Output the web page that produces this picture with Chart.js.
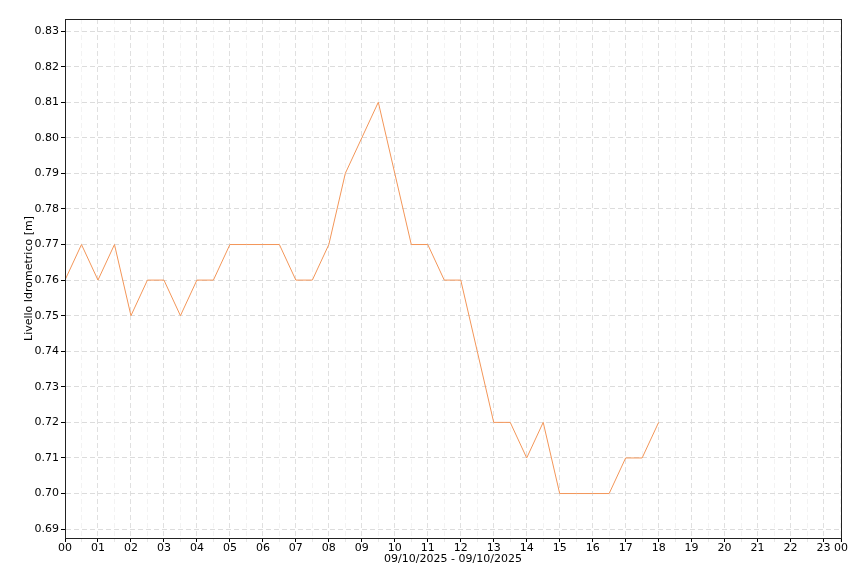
<!DOCTYPE html>
<html lang="it">
<head>
<meta charset="UTF-8">
<title>Livello Idrometrico</title>
<script src="https://cdn.jsdelivr.net/npm/chart.js"></script>
<style>
html,body{margin:0;padding:0;background:#fff;}
#wrap{width:860px;height:573px;}
</style>
</head>
<body>
<div id="wrap"><canvas id="chart" width="860" height="573"></canvas></div>
<script>
// letture ogni mezz'ora, 09/10/2025
const times = ['00:00','00:30','01:00','01:30','02:00','02:30','03:00','03:30','04:00','04:30',
  '05:00','05:30','06:00','06:30','07:00','07:30','08:00','08:30','09:00','09:30',
  '10:00','10:30','11:00','11:30','12:00','12:30','13:00','13:30','14:00','14:30',
  '15:00','15:30','16:00','16:30','17:00','17:30','18:00'];
const levels = [0.76,0.77,0.76,0.77,0.75,0.76,0.76,0.75,0.76,0.76,
  0.77,0.77,0.77,0.77,0.76,0.76,0.77,0.79,0.80,0.81,
  0.79,0.77,0.77,0.76,0.76,0.74,0.72,0.72,0.71,0.72,
  0.70,0.70,0.70,0.70,0.71,0.71,0.72];
const yTicks = [0.69,0.70,0.71,0.72,0.73,0.74,0.75,0.76,0.77,0.78,0.79,0.80,0.81,0.82,0.83];
const xMax = 23.53; // il grafico termina poco dopo le 23:30
const xTicks = [];
for (let h = 0; h <= 23.5; h += 0.5) xTicks.push(h);
xTicks.push(xMax);

const toHours = t => { const p = t.split(':'); return +p[0] + p[1] / 60; };
const points = times.map((t, i) => ({x: toHours(t), y: levels[i]}));

const isHour = v => Number.isInteger(v) || v === xMax;

const frame = {
  id: 'frame',
  afterDraw(chart) {
    const a = chart.chartArea, c = chart.ctx;
    c.save();
    c.strokeStyle = '#222';
    c.lineWidth = 1;
    c.strokeRect(Math.round(a.left) + 0.5, Math.round(a.top) + 0.5,
      Math.round(a.right - a.left), Math.round(a.bottom - a.top));
    c.restore();
  }
};

Chart.defaults.font.family = 'DejaVu Sans';
Chart.defaults.font.size = 11;
Chart.defaults.color = '#000';

new Chart(document.getElementById('chart'), {
  type: 'line',
  data: {
    datasets: [{
      data: points,
      borderColor: '#f39659',
      borderWidth: 1,
      pointRadius: 0,
      tension: 0,
      fill: false
    }]
  },
  options: {
    responsive: false,
    animation: false,
    layout: {padding: {left: 23, top: 19, right: 19, bottom: 7}},
    plugins: {legend: {display: false}, tooltip: {enabled: false}},
    scales: {
      x: {
        type: 'linear',
        min: 0,
        max: xMax,
        afterBuildTicks: s => { s.ticks = xTicks.map(v => ({value: v})); },
        afterFit: s => { s.height = 28; },
        ticks: {
          autoSkip: false,
          maxRotation: 0,
          padding: 0,
          callback: v => v === xMax ? '00' : (Number.isInteger(v) ? String(v).padStart(2, '0') : '')
        },
        grid: {
          color: c => Number.isInteger(c.tick.value) ? '#e0e0e0' : (c.tick.value === xMax ? 'rgba(0,0,0,0)' : '#f3f3f3'),
          tickColor: c => isHour(c.tick.value) ? '#000' : '#e8e8e8',
          tickLength: 4
        },
        border: {color: '#000', dash: [5, 3]},
        title: {display: true, text: '09/10/2025 - 09/10/2025', padding: {top: 0, bottom: 0}}
      },
      y: {
        min: 0.6875,
        max: 0.8334,
        afterBuildTicks: s => { s.ticks = yTicks.map(v => ({value: v})); },
        afterFit: s => { s.width = 42; },
        ticks: {padding: 2, callback: v => v.toFixed(2)},
        grid: {color: '#dcdcdc', tickColor: '#000', tickLength: 4},
        border: {color: '#000', dash: [5, 3]},
        title: {display: true, text: 'Livello Idrometrico [m]', padding: {top: 0, bottom: 0}}
      }
    }
  },
  plugins: [frame]
});
</script>
</body>
</html>
